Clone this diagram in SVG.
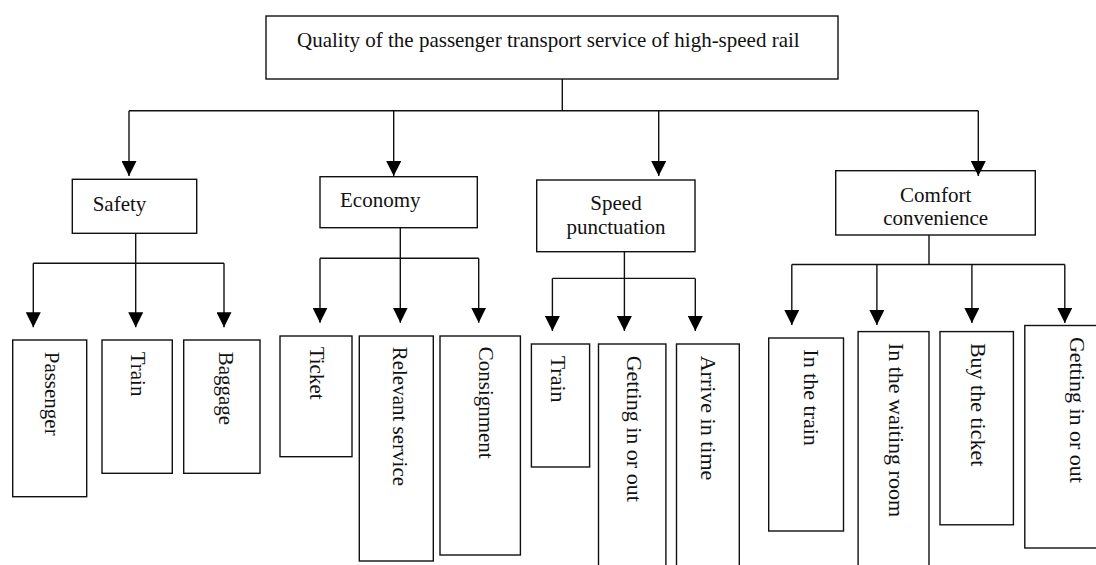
<svg xmlns="http://www.w3.org/2000/svg" width="1096" height="565" viewBox="0 0 1096 565">
<style>
.box{fill:#fff;stroke:#111;stroke-width:1.4}
.ln{fill:none;stroke:#111;stroke-width:1.4}
.ar{fill:none;stroke:#111;stroke-width:1.4;marker-end:url(#ah)}
text{font-family:"Liberation Serif","Times New Roman",serif;font-size:21px;fill:#111}
.c{text-anchor:middle}
.v2{font-size:22px}
</style>
<defs>
<marker id="ah" markerUnits="userSpaceOnUse" markerWidth="15" markerHeight="15" viewBox="0 0 15 15" refX="15" refY="7.5" orient="auto">
<path d="M0,0 L15,7.5 L0,15 Z" fill="#000"/>
</marker>
</defs>
<rect width="1096" height="565" fill="#fff"/>
<g id="root"><rect class="box" x="266" y="16" width="572" height="63"/><text x="297" y="47">Quality of the passenger transport service of high-speed rail</text></g>
<g id="safety"><rect class="box" x="72.3" y="179.3" width="124.4" height="54"/><text x="92.7" y="211">Safety</text></g>
<g id="economy"><rect class="box" x="320" y="176.7" width="157.3" height="51"/><text x="340" y="207.3">Economy</text></g>
<g id="speed"><rect class="box" x="536.7" y="180" width="158.3" height="71.7"/><text class="c" x="616" y="210">Speed</text><text class="c" x="616" y="234.3">punctuation</text></g>
<g id="comfort"><rect class="box" x="835.7" y="170.7" width="199.6" height="64.3"/><text class="c" x="935.7" y="201.7">Comfort</text><text class="c" x="935.7" y="225">convenience</text></g>
<g id="passenger"><rect class="box" x="12.7" y="340" width="74" height="156.7"/><text transform="translate(44.5,351.7) rotate(90)">Passenger</text></g>
<g id="safety-train"><rect class="box" x="102" y="340" width="70.3" height="133.3"/><text transform="translate(130.5,351.7) rotate(90)">Train</text></g>
<g id="baggage"><rect class="box" x="183.7" y="340" width="76.3" height="133.3"/><text transform="translate(219,351.7) rotate(90)">Baggage</text></g>
<g id="ticket"><rect class="box" x="280" y="336" width="72" height="120.7"/><text transform="translate(310,346.7) rotate(90)">Ticket</text></g>
<g id="relevant-service"><rect class="box" x="359.3" y="336" width="74" height="225"/><text transform="translate(392.5,346.7) rotate(90)">Relevant service</text></g>
<g id="consignment"><rect class="box" x="440" y="336" width="80.4" height="219"/><text transform="translate(479.3,346.7) rotate(90)">Consignment</text></g>
<g id="speed-train"><rect class="box" x="531.4" y="344" width="58.2" height="123"/><text class="v2" transform="translate(551,355.7) rotate(90)">Train</text></g>
<g id="speed-getting"><rect class="box" x="598.5" y="344" width="67.4" height="230"/><text class="v2" transform="translate(627,355.7) rotate(90)">Getting in or out</text></g>
<g id="arrive"><rect class="box" x="676.5" y="344" width="62.8" height="230"/><text class="v2" transform="translate(700.5,355.7) rotate(90)">Arrive in time</text></g>
<g id="in-train"><rect class="box" x="768.7" y="338" width="74.8" height="193"/><text class="v2" transform="translate(804,349.3) rotate(90)">In the train</text></g>
<g id="waiting-room"><rect class="box" x="858.1" y="331.6" width="70.9" height="240"/><text class="v2" transform="translate(888.5,342.9) rotate(90)">In the waiting room</text></g>
<g id="buy-ticket"><rect class="box" x="940" y="331.6" width="73.4" height="193.2"/><text class="v2" transform="translate(971,342.9) rotate(90)">Buy the ticket</text></g>
<g id="comfort-getting"><rect class="box" x="1024.8" y="325.5" width="80" height="222.5"/><text class="v2" transform="translate(1070,336.9) rotate(90)">Getting in or out</text></g>
<g id="connectors">
<path class="ln" d="M562.3,79 V110.7 M129,110.7 H978.3"/>
<path class="ar" d="M129,110.7 V176"/>
<path class="ar" d="M393.7,110.7 V176"/>
<path class="ar" d="M658.7,110.7 V176"/>
<path class="ar" d="M978.3,110.7 V176"/>
<path class="ln" d="M135.7,233.3 V263.3 M33.3,263.3 H224"/>
<path class="ar" d="M33.3,263.3 V327.3"/>
<path class="ar" d="M135.7,263.3 V327.3"/>
<path class="ar" d="M224,263.3 V327.3"/>
<path class="ln" d="M400.3,227.7 V258.3 M320,258.3 H478.7"/>
<path class="ar" d="M320,258.3 V322.7"/>
<path class="ar" d="M400.3,258.3 V322.7"/>
<path class="ar" d="M478.7,258.3 V322.7"/>
<path class="ln" d="M624.4,251.7 V278.4 M552.4,278.4 H695.3"/>
<path class="ar" d="M552.4,278.4 V331"/>
<path class="ar" d="M624.4,278.4 V331"/>
<path class="ar" d="M695.3,278.4 V331"/>
<path class="ln" d="M929,235 V264.5 M791.8,264.5 H1064.8"/>
<path class="ar" d="M791.8,264.5 V325"/>
<path class="ar" d="M876.9,264.5 V325"/>
<path class="ar" d="M971.9,264.5 V323"/>
<path class="ar" d="M1064.8,264.5 V323"/>
</g>
</svg>
